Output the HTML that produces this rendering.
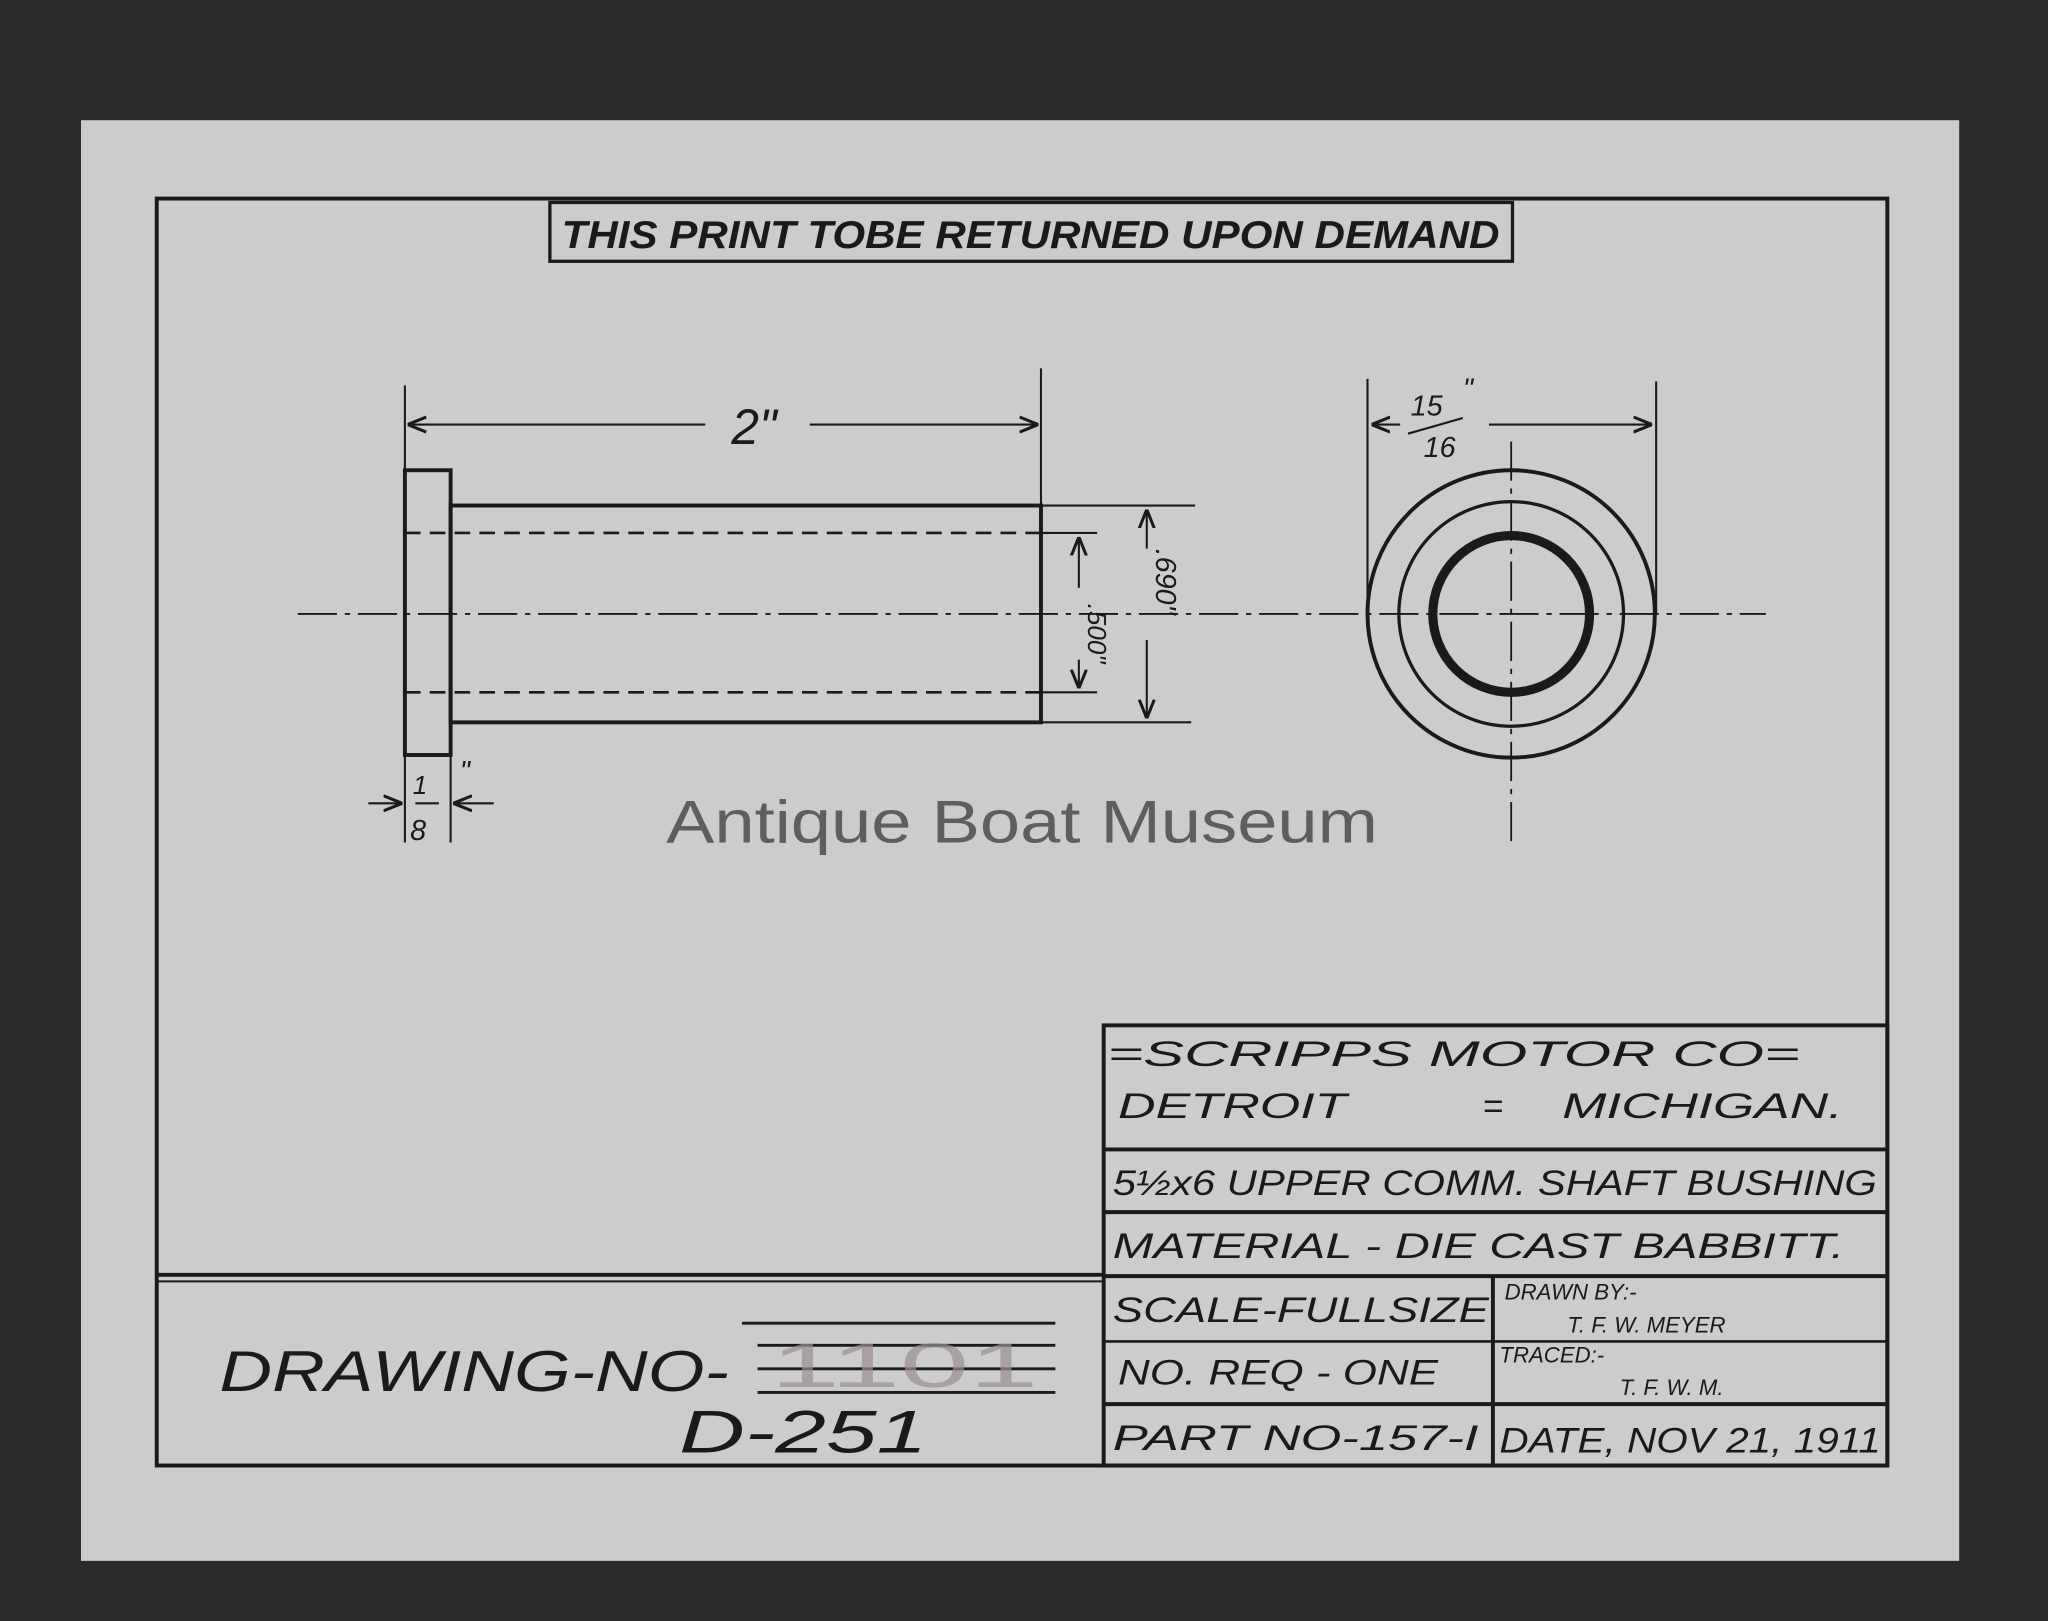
<!DOCTYPE html>
<html><head><meta charset="utf-8"><style>
html,body{margin:0;padding:0;background:#2b2b2d;}
svg{display:block}
text{font-family:"Liberation Sans",sans-serif;font-style:italic;fill:#1a1a1a;}
</style></head><body>
<svg width="2048" height="1621" viewBox="0 0 1568 1241" xmlns="http://www.w3.org/2000/svg">
<defs><marker id="a" viewBox="0 0 10 10" refX="10" refY="5" markerWidth="9" markerHeight="9" orient="auto-start-reverse"><path d="M0,1 L10,5 L0,9" fill="none" stroke="#1a1a1a" stroke-width="1.6"/></marker></defs>
<rect width="1568" height="1241" fill="#2b2b2d"/>
<rect x="62" y="92" width="1438" height="1103" fill="#cccbcd"/>
<g stroke="#1a1a1a" fill="none" stroke-width="3">
<rect x="120" y="152" width="1325" height="970"/>
<rect x="421" y="155" width="737" height="45" stroke-width="2.5"/>
<line x1="120" y1="976" x2="845" y2="976"/><line x1="120" y1="981" x2="845" y2="981" stroke-width="1.5"/>
<rect x="845" y="785" width="600" height="337"/>
<line x1="845" y1="880" x2="1445" y2="880"/>
<line x1="845" y1="928" x2="1445" y2="928"/>
<line x1="845" y1="977" x2="1445" y2="977"/>
<line x1="845" y1="1027" x2="1445" y2="1027" stroke-width="2"/>
<line x1="845" y1="1075" x2="1445" y2="1075"/>
<line x1="1143" y1="977" x2="1143" y2="1122"/>
<rect x="310" y="360" width="35" height="218"/>
<rect x="345" y="387" width="452" height="166"/>
<g stroke-width="2" stroke-dasharray="12,7"><line x1="310" y1="408" x2="797" y2="408"/><line x1="310" y1="530" x2="797" y2="530"/></g>
<line x1="228" y1="470" x2="1352" y2="470" stroke-width="1.4" stroke-dasharray="30,6,4,6"/>
<line x1="1157" y1="338" x2="1157" y2="648" stroke-width="1.4" stroke-dasharray="30,6,4,6"/>
<g stroke-width="1.6">
<line x1="310" y1="295" x2="310" y2="360"/><line x1="797" y1="282" x2="797" y2="387"/>
<line x1="312" y1="325" x2="540" y2="325" marker-start="url(#a)"/><line x1="620" y1="325" x2="795" y2="325" marker-end="url(#a)"/>
<line x1="797" y1="387" x2="915" y2="387"/><line x1="797" y1="553" x2="912" y2="553"/>
<line x1="878" y1="390" x2="878" y2="420" marker-start="url(#a)"/><line x1="878" y1="490" x2="878" y2="550" marker-end="url(#a)"/>
<line x1="797" y1="408" x2="840" y2="408"/><line x1="797" y1="530" x2="840" y2="530"/>
<line x1="826" y1="411" x2="826" y2="450" marker-start="url(#a)"/><line x1="826" y1="505" x2="826" y2="527" marker-end="url(#a)"/>
<line x1="310" y1="578" x2="310" y2="645"/><line x1="345" y1="578" x2="345" y2="645"/>
<line x1="282" y1="615" x2="308" y2="615" marker-end="url(#a)"/><line x1="378" y1="615" x2="347" y2="615" marker-end="url(#a)"/>
<line x1="318" y1="615" x2="336" y2="615"/>
<line x1="1047" y1="290" x2="1047" y2="470"/><line x1="1268" y1="292" x2="1268" y2="470"/>
<line x1="1050" y1="325" x2="1072" y2="325" marker-start="url(#a)"/><line x1="1140" y1="325" x2="1265" y2="325" marker-end="url(#a)"/>
<line x1="1078" y1="332" x2="1120" y2="320"/>
</g>
<circle cx="1157" cy="470" r="110"/><circle cx="1157" cy="470" r="86" stroke-width="2.5"/>
<circle cx="1157" cy="470" r="60" stroke-width="7"/>
<g stroke-width="2.2"><line x1="568" y1="1013" x2="808" y2="1013"/><line x1="580" y1="1030" x2="808" y2="1030"/><line x1="580" y1="1048" x2="808" y2="1048"/><line x1="580" y1="1066" x2="808" y2="1066"/></g>
</g>
<text x="590" y="1062" font-size="48" textLength="205" lengthAdjust="spacingAndGlyphs" style="fill:#9a8f92;font-style:normal;opacity:0.7">1101</text>
<text x="430" y="190" font-size="30" textLength="718" lengthAdjust="spacingAndGlyphs" font-weight="bold">THIS PRINT TOBE RETURNED UPON DEMAND</text>
<text x="560" y="340" font-size="38">2"</text>
<text x="1080" y="318" font-size="22">15</text><text x="1120" y="305" font-size="22">"</text><text x="1090" y="350" font-size="22">16</text>
<text x="316" y="608" font-size="20">1</text><text x="314" y="643" font-size="22">8</text><text x="352" y="598" font-size="22">"</text>
<text transform="translate(885,420) rotate(90)" font-size="22">.690"</text>
<text transform="translate(833,462) rotate(90)" font-size="20">.500"</text>
<text x="510" y="645" font-size="46" textLength="545" lengthAdjust="spacingAndGlyphs" style="fill:#5e5e60;font-style:normal">Antique Boat Museum</text>
<g font-size="27">
<text x="848" y="816" textLength="530" lengthAdjust="spacingAndGlyphs">=SCRIPPS MOTOR CO=</text>
<text x="856" y="856" textLength="175" lengthAdjust="spacingAndGlyphs">DETROIT</text>
<text x="1135" y="856">=</text>
<text x="1196" y="856" textLength="215" lengthAdjust="spacingAndGlyphs">MICHIGAN.</text>
<text x="852" y="915" textLength="585" lengthAdjust="spacingAndGlyphs">5½x6 UPPER COMM. SHAFT BUSHING</text>
<text x="852" y="963" textLength="560" lengthAdjust="spacingAndGlyphs">MATERIAL - DIE CAST BABBITT.</text>
<text x="852" y="1012" textLength="288" lengthAdjust="spacingAndGlyphs">SCALE-FULLSIZE</text>
<text x="856" y="1060" textLength="245" lengthAdjust="spacingAndGlyphs">NO. REQ - ONE</text>
<text x="852" y="1110" textLength="280" lengthAdjust="spacingAndGlyphs">PART NO-157-I</text>
<text x="1148" y="1112" textLength="292" lengthAdjust="spacingAndGlyphs">DATE, NOV 21, 1911</text>
</g>
<g font-size="17">
<text x="1152" y="995">DRAWN BY:-</text><text x="1200" y="1020">T. F. W. MEYER</text>
<text x="1148" y="1043">TRACED:-</text><text x="1240" y="1068">T. F. W. M.</text>
</g>
<text x="168" y="1065" font-size="44" textLength="390" lengthAdjust="spacingAndGlyphs">DRAWING-NO-</text>
<text x="520" y="1112" font-size="46" textLength="190" lengthAdjust="spacingAndGlyphs">D-251</text>
</svg>
</body></html>
